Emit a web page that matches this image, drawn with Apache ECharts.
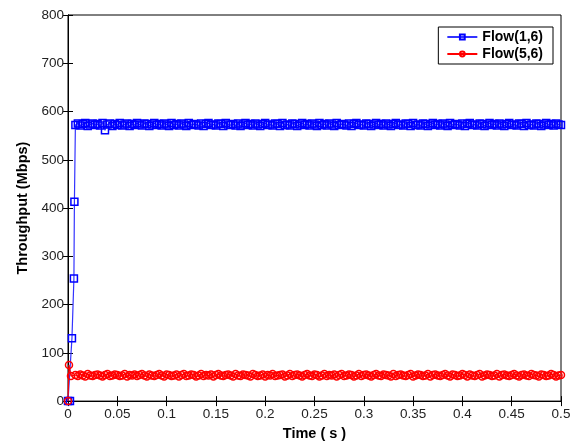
<!DOCTYPE html>
<html><head><meta charset="utf-8">
<script src="https://cdn.jsdelivr.net/npm/echarts@6/dist/echarts.min.js"></script>
<style>html,body{margin:0;padding:0;background:#fff}#c{width:581px;height:446px}</style>
</head><body><div id="c"></div>
<script>
var seriesNames = ['Flow(1,6)', 'Flow(5,6)'];
var xTicks = [0,0.05,0.1,0.15,0.2,0.25,0.3,0.35,0.4,0.45,0.5];
var yTicks = [0,100,200,300,400,500,600,700,800];
// start-up samples
var blueStartT = [0, 0.002, 0.004, 0.006, 0.0065];
var blueStartV = [0, 0, 130, 254, 413];
var redStartT = [0, 0.001, 0.003];
var redStartV = [0, 75, 52];
// steady samples from 0.0075 s every 0.0025 s
var steadyStart = 0.0075, steadyStep = 0.0025;
var blueV = [572,575,571,574,576,570,573,575,572,574,571,576,561,573,575,570,574,572,576,571,
573,575,570,574,572,576,573,571,575,574,570,573,576,572,574,571,575,573,570,576,
572,574,571,575,573,570,576,572,574,573,571,575,570,574,576,572,573,571,575,574,
570,576,573,572,574,571,575,570,573,576,572,574,571,575,573,570,574,576,572,573,
571,575,574,570,576,572,573,571,575,574,570,573,576,572,574,571,575,573,570,576,
572,574,571,575,573,570,576,572,574,573,571,575,570,574,576,572,573,571,575,574,
570,573,576,572,574,571,575,573,570,574,576,572,573,571,575,574,570,576,572,573,
571,575,574,570,573,576,572,574,571,575,573,570,576,572,574,573,571,575,570,574,
576,572,573,571,575,574,570,573,576,572,574,571,575,573,570,574,576,572,573,571,
575,574,570,576,572,573,571,575,574,570,573,576,572,574,571,575,573,572];
var redV = [54,52,55,53,51,56,53,52,54,55,53,51,54,56,52,53,55,54,52,53,
56,51,54,53,55,52,54,56,53,51,55,53,52,54,56,53,51,55,54,52,
53,55,51,54,56,52,53,55,54,51,53,56,52,54,53,55,51,54,56,53,
52,54,55,53,51,56,53,52,55,54,53,51,56,54,52,53,55,51,54,53,
56,52,53,54,55,51,53,56,52,54,55,53,51,54,56,53,52,55,54,51,
53,56,52,54,53,55,51,54,56,52,53,55,54,51,53,56,52,54,55,53,
51,54,56,53,52,55,54,53,51,56,52,54,55,53,52,54,56,51,53,55,
54,52,53,56,51,54,55,53,52,54,56,53,51,55,54,52,53,56,54,51,
55,53,52,54,56,51,53,55,54,52,53,56,51,54,55,53,52,54,56,53,
51,54,55,53,52,56,54,53,51,55,54,52,53,56,54,51,53,54];

function build(startT, startV, vals) {
  var out = [];
  for (var i = 0; i < startT.length; i++) out.push([startT[i], startV[i]]);
  for (var j = 0; j < vals.length; j++) out.push([+(steadyStart + j * steadyStep).toFixed(4), vals[j]]);
  return out;
}
var blueData = build(blueStartT, blueStartV, blueV);
var redData = build(redStartT, redStartV, redV);

var font = 'Liberation Sans, Arial, sans-serif';
var axCommon = {
  axisLine: {show: true, lineStyle: {color: '#000', width: 1}},
  axisTick: {show: true, inside: true, length: 5, lineStyle: {color: '#000'}},
  splitLine: {show: false}
};
var chart = echarts.init(document.getElementById('c'));
chart.setOption({
  animation: false,
  backgroundColor: '#fff',
  grid: {left: 68, right: 20, top: 15, bottom: 43, show: true, borderColor: '#000', borderWidth: 1},
  legend: {
    orient: 'vertical', right: 28, top: 27, itemWidth: 30, itemHeight: 6, itemGap: 3,
    borderColor: '#000', borderWidth: 1, padding: [3, 10, 3, 8], backgroundColor: '#fff',
    textStyle: {fontFamily: font, fontWeight: 'bold', fontSize: 14, color: '#000'},
    data: seriesNames
  },
  xAxis: [
    Object.assign({type: 'value', min: xTicks[0], max: xTicks[xTicks.length-1], interval: 0.05,
      name: 'Time ( s )', nameLocation: 'middle', nameGap: 24,
      nameTextStyle: {fontFamily: font, fontWeight: 'bold', fontSize: 14.5, color: '#000'},
      axisLabel: {fontFamily: font, fontSize: 13.5, color: '#222', margin: 6}}, axCommon),
    Object.assign({type: 'value', position: 'top', min: 0, max: 0.5, interval: 0.05,
      axisLabel: {show: false}}, axCommon)
  ],
  yAxis: [
    Object.assign({type: 'value', min: yTicks[0], max: yTicks[yTicks.length-1], interval: 100,
      name: 'Throughput (Mbps)', nameLocation: 'middle', nameGap: 38,
      nameTextStyle: {fontFamily: font, fontWeight: 'bold', fontSize: 14.5, color: '#000'},
      axisLabel: {fontFamily: font, fontSize: 13.5, color: '#222', margin: 4}}, axCommon),
    Object.assign({type: 'value', position: 'right', min: 0, max: 800, interval: 100,
      axisLabel: {show: false}}, axCommon)
  ],
  series: [
    {name: seriesNames[0], type: 'line', data: blueData, symbol: 'rect', symbolSize: 7,
      showAllSymbol: true, color: '#0000ff',
      lineStyle: {color: '#3333ff', width: 1.2}, itemStyle: {color: 'rgba(0,0,0,0)', borderColor: '#0000ff', borderWidth: 1.5}},
    {name: seriesNames[1], type: 'line', data: redData, symbol: 'circle', symbolSize: 7,
      showAllSymbol: true, color: '#ff0000',
      lineStyle: {color: '#ff0000', width: 1.2}, itemStyle: {color: 'rgba(0,0,0,0)', borderColor: '#ff0000', borderWidth: 1.5}}
  ]
});
</script></body></html>
